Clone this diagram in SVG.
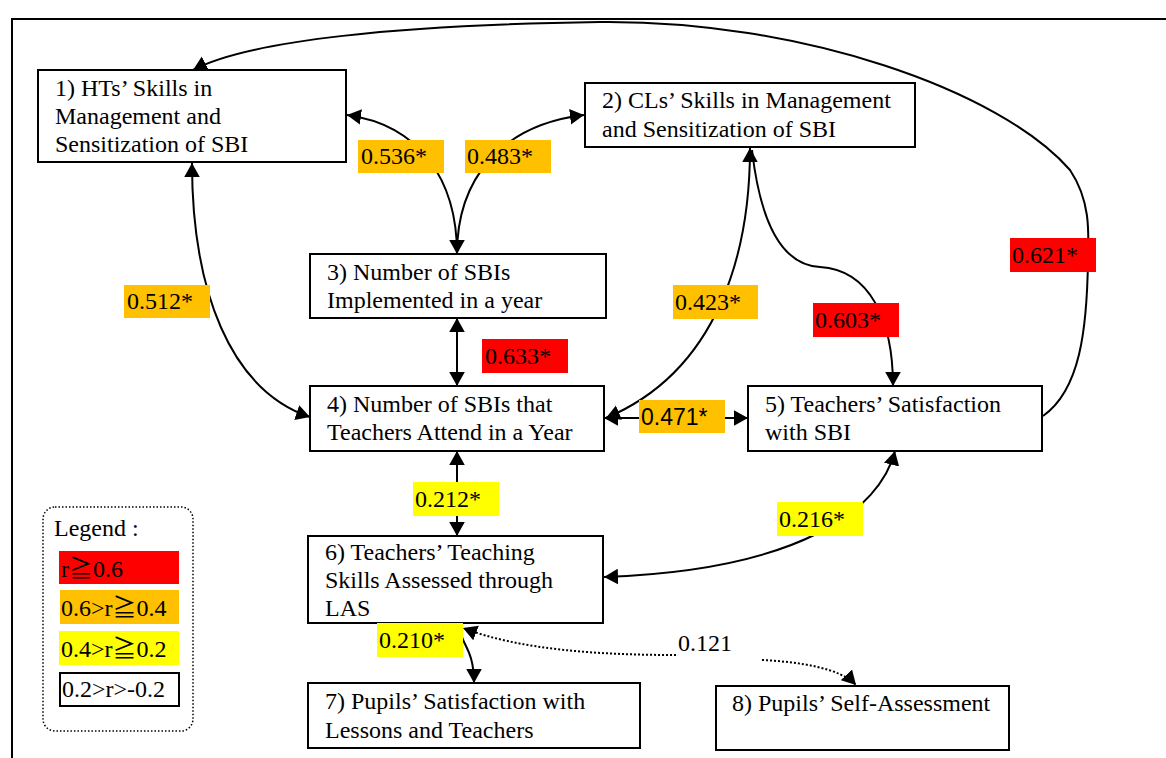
<svg xmlns="http://www.w3.org/2000/svg" width="1166" height="758" viewBox="0 0 1166 758">
<defs>
<style>
.t{font-family:"Liberation Serif","Noto Sans CJK JP",serif;font-size:24px;fill:#000}
.s{font-family:"Liberation Sans",Arial,sans-serif;font-size:23px;fill:#000}
.box{fill:#fff;stroke:#000;stroke-width:2}
.c{fill:none;stroke:#000;stroke-width:2}
.d{fill:none;stroke:#000;stroke-width:2;stroke-dasharray:2 2}
.or{fill:#FFC000}
.rd{fill:#FF0000}
.ye{fill:#FFFF00}
</style>
<marker id="a" viewBox="0 0 9 10" refX="9" refY="5" markerWidth="7" markerHeight="8" markerUnits="strokeWidth" orient="auto-start-reverse">
<path d="M0,0 L9,5 L0,10 z" fill="#000"/>
</marker>
</defs>
<rect x="0" y="0" width="1166" height="758" fill="#fff"/>
<rect x="12" y="19" width="1200" height="800" fill="none" stroke="#000" stroke-width="2"/>

<g id="connectors">
<path class="c" d="M1043,416 C1080,390 1087,330 1088,260 C1089,230 1090,200 1070,170 C1000,90 800,20 600,22 C400,25 250,40 193,70" marker-end="url(#a)"/>
<path class="c" d="M347,115 C420,125 457,180 457,254" marker-start="url(#a)" marker-end="url(#a)"/>
<path class="c" d="M584,115 C500,125 457,180 457,254" marker-start="url(#a)"/>
<path class="c" d="M192,163 C192,290 230,390 310,417" marker-start="url(#a)" marker-end="url(#a)"/>
<path class="c" d="M457,318 L457,386" marker-start="url(#a)" marker-end="url(#a)"/>
<path class="c" d="M750,148 C750,250 720,370 606,418" marker-start="url(#a)" marker-end="url(#a)"/>
<path class="c" d="M752,150 C760,220 780,265 820,267 C870,270 893,320 893,386" marker-end="url(#a)"/>
<path class="c" d="M604,418 L748,418" marker-start="url(#a)" marker-end="url(#a)"/>
<path class="c" d="M457,451 L457,536" marker-start="url(#a)" marker-end="url(#a)"/>
<path class="c" d="M895,451 C880,510 800,570 604,577" marker-start="url(#a)" marker-end="url(#a)"/>
<path class="c" d="M460,630 C462,645 474,650 474,683" marker-end="url(#a)"/>
<path class="d" d="M676,655 C600,655 520,650 463,628" marker-end="url(#a)"/>
<path class="d" d="M762,660 C800,662 840,668 856,685" marker-end="url(#a)"/>
</g>

<g id="node1"><rect class="box" x="38" y="70" width="308" height="92"/>
<text class="t" x="55" y="96">1) HTs’ Skills in</text>
<text class="t" x="55" y="124">Management and</text>
<text class="t" x="55" y="152">Sensitization of SBI</text></g>

<g id="node2"><rect class="box" x="585" y="83" width="330" height="64"/>
<text class="t" x="602" y="108">2) CLs’ Skills in Management</text>
<text class="t" x="602" y="137">and Sensitization of SBI</text></g>

<g id="node3"><rect class="box" x="310" y="254" width="296" height="64"/>
<text class="t" x="327" y="280">3) Number of SBIs</text>
<text class="t" x="327" y="308">Implemented in a year</text></g>

<g id="node4"><rect class="box" x="310" y="386" width="294" height="65"/>
<text class="t" x="327" y="412">4) Number of SBIs that</text>
<text class="t" x="327" y="440">Teachers Attend in a Year</text></g>

<g id="node5"><rect class="box" x="748" y="386" width="294" height="65"/>
<text class="t" x="765" y="412">5) Teachers’ Satisfaction</text>
<text class="t" x="765" y="440">with SBI</text></g>

<g id="node6"><rect class="box" x="308" y="536" width="295" height="87"/>
<text class="t" x="325" y="560">6) Teachers’ Teaching</text>
<text class="t" x="325" y="588">Skills Assessed through</text>
<text class="t" x="325" y="616">LAS</text></g>

<g id="node7"><rect class="box" x="308" y="683" width="332" height="65"/>
<text class="t" x="325" y="709">7) Pupils’ Satisfaction with</text>
<text class="t" x="325" y="738">Lessons and Teachers</text></g>

<g id="node8"><rect class="box" x="716" y="686" width="293" height="64"/>
<text class="t" x="732" y="711">8) Pupils’ Self-Assessment</text></g>

<g id="labels">
<rect class="or" x="358" y="140" width="86" height="33"/><text class="t" x="361" y="164">0.536*</text>
<rect class="or" x="465" y="140" width="86" height="33"/><text class="t" x="467" y="164">0.483*</text>
<rect class="or" x="124" y="285" width="86" height="33"/><text class="t" x="127" y="309">0.512*</text>
<rect class="rd" x="482" y="339" width="86" height="34"/><text class="t" x="485" y="364">0.633*</text>
<rect class="or" x="673" y="285" width="85" height="34"/><text class="t" x="675" y="310">0.423*</text>
<rect class="rd" x="813" y="303" width="86" height="34"/><text class="t" x="815" y="328">0.603*</text>
<rect class="rd" x="1010" y="238" width="86" height="34"/><text class="t" x="1012" y="263">0.621*</text>
<rect class="or" x="639" y="400" width="86" height="33"/><text class="s" x="641" y="425">0.471*</text>
<rect class="ye" x="413" y="482" width="86" height="34"/><text class="t" x="415" y="507">0.212*</text>
<rect class="ye" x="777" y="502" width="86" height="34"/><text class="t" x="779" y="527">0.216*</text>
<rect class="ye" x="377" y="623" width="86" height="34"/><text class="t" x="379" y="648">0.210*</text>
<text class="t" x="678" y="651">0.121</text>
</g>

<g id="legend">
<rect x="43" y="507" width="150" height="224" rx="12" ry="12" fill="none" stroke="#000" stroke-width="1.5" stroke-dasharray="1.5 2"/>
<text class="t" x="54" y="536">Legend :</text>
<rect class="rd" x="59" y="551" width="120" height="33"/><text class="t" x="61" y="577">r≧0.6</text>
<rect class="or" x="60" y="590" width="119" height="34"/><text class="t" x="61" y="616">0.6&gt;r≧0.4</text>
<rect class="ye" x="59" y="631" width="120" height="34"/><text class="t" x="61" y="657">0.4&gt;r≧0.2</text>
<rect x="60" y="673" width="119" height="33" fill="#fff" stroke="#000" stroke-width="2"/><text class="t" x="62" y="697">0.2&gt;r&gt;-0.2</text>
</g>
</svg>
